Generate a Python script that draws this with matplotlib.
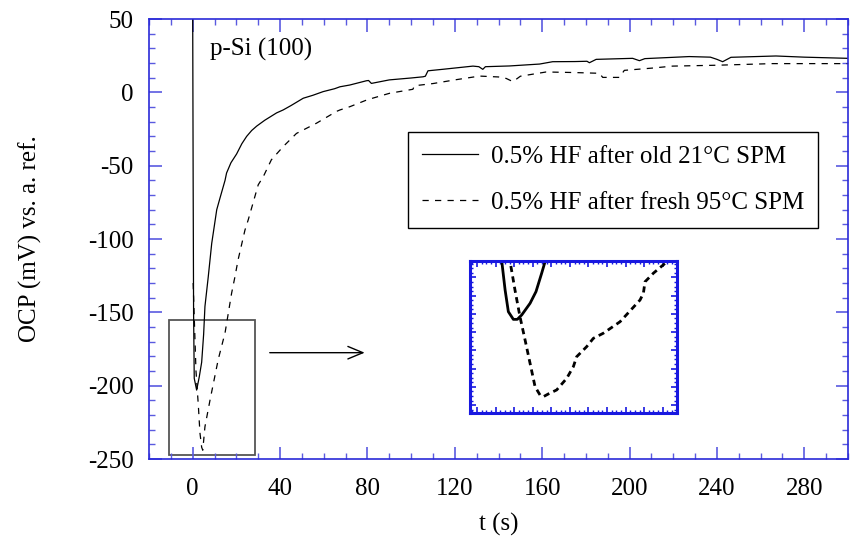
import matplotlib
matplotlib.use('Agg')
import matplotlib.pyplot as plt
from matplotlib.patches import Rectangle
from matplotlib.ticker import MultipleLocator

plt.rcParams['font.family'] = ['Liberation Serif', 'DejaVu Serif']
plt.rcParams['font.size'] = 18
plt.rcParams['axes.unicode_minus'] = False

# 0.5% HF after old 21°C SPM (solid)
t_old = [0, 0.2, 0.4, 0.7, 1.8, 3.0, 4.1, 5.0, 5.6, 7.1, 8.7, 11.0, 12.5, 14.8, 15.5,
         17.5, 20.1, 22.5, 24.7, 27, 29.3, 33, 38.4, 41.4, 45, 50.6, 55, 59.7, 65, 67.4,
         71.9, 79.5, 80.5, 81.8, 90, 100, 105.4, 106.5, 107.7, 115, 128.3, 131, 132.8,
         134, 145, 158.8, 164.8, 175, 180.5, 181.6, 184.7, 201.4, 204.5, 207, 227.3,
         237, 240, 242.6, 246.4, 267, 280, 300]
v_old = [50, -60, -150, -195, -203, -194, -184, -165, -146, -126, -103, -80, -72, -60, -55,
         -48, -42, -35, -30, -26, -23, -19, -14, -12, -9, -4, -2, 0.5, 2.5, 3.8,
         5, 7.9, 8.1, 6.1, 8.5, 9.8, 10.6, 11, 14.7, 15.8, 17.9, 17.5, 15.7,
         17.5, 18, 19.3, 20.9, 21, 21.2, 20.2, 22.5, 23.2, 21.6, 23, 24.4,
         24, 22.5, 20.9, 23.9, 24.8, 24, 23.2]

# 0.5% HF after fresh 95°C SPM (dashed)
t_fresh = [0.2, 1.5, 2.6, 3.3, 4.1, 4.6, 5.6, 7.9, 11.7, 14.8, 17.8, 19.3, 20.8, 23.9,
           25.4, 27.7, 30, 32.3, 36, 41.4, 47.5, 56.7, 65.8, 67.4, 71.9, 80, 90.2, 100.8,
           101.5, 110, 120, 131.3, 140, 143.5, 146.6, 150, 161.8, 175, 186.2, 187.7,
           195.3, 197.6, 210, 219.7, 240, 265.4, 300]
v_fresh = [-130, -190, -214, -232, -242, -244, -228, -210, -182, -164, -137, -126, -114, -94,
           -87, -75, -63, -57.5, -46, -37, -28, -21, -13, -12, -9.8, -5, -0.6, 2.1,
           4.5, 6, 8.5, 11.1, 10.5, 9.5, 7.3, 11, 13.9, 13.5, 13, 10.2,
           10.2, 15, 16.5, 17.9, 18.5, 19.6, 19.6]

# inset (zoom on the minima)
t_old_in = [0.45, 0.53, 0.82, 1.1, 1.53, 1.87, 2.25, 2.97, 3.48, 3.97, 4.26, 4.4]
v_old_in = [-166, -171, -186.9, -198.8, -203, -203, -200.6, -194.2, -187.8, -177.7, -171.4, -166]
t_fresh_in = [1.2, 1.24, 1.67, 2.1, 2.54, 2.97, 3.4, 3.83, 4.11, 4.54, 5.26, 6.13, 6.7, 6.98,
              7.84, 8.42, 9.28, 10.72, 12.44, 12.73, 12.87, 13.59, 14.6, 14.87, 15.2]
v_fresh_in = [-168, -171, -186.9, -201.5, -214.3, -227.1, -239.9, -244.5, -245.4, -243.9,
              -241.7, -235.3, -228.9, -223.5, -218, -213.4, -210.6, -204.3, -192.4, -188.7,
              -182.4, -177.7, -172.3, -171, -168]

labels = ['0.5% HF after old 21°C SPM', '0.5% HF after fresh 95°C SPM']

spine_blue = '#2a2ad8'
tick_blue = '#5a5ae0'

fig = plt.figure(figsize=(8.54, 5.39), dpi=100)
ax = fig.add_axes([0.1745, 0.1484, 0.8185, 0.8163])

ax.plot(t_old, v_old, color='black', lw=0.9, label=labels[0])
ax.plot(t_fresh, v_fresh, color='black', lw=0.9, linestyle=(0, (5, 5)), label=labels[1])

ax.set_xlim(-20, 300)
ax.set_ylim(-250, 50)
ax.xaxis.set_major_locator(MultipleLocator(40))
ax.xaxis.set_minor_locator(MultipleLocator(10))
ax.yaxis.set_major_locator(MultipleLocator(50))
ax.yaxis.set_minor_locator(MultipleLocator(10))
ax.tick_params(which='both', direction='in', top=True, right=True, color=tick_blue,
               labelsize=18)
ax.tick_params(axis='y', pad=11)
ax.tick_params(axis='x', pad=14)
ax.tick_params(which='major', length=9, width=1.2)
ax.tick_params(which='minor', length=4.5, width=1.0)
for s in ax.spines.values():
    s.set_color(spine_blue)
    s.set_linewidth(1.2)

ax.set_xlabel('t (s)', fontsize=18, labelpad=9)
ax.set_ylabel('OCP (mV) vs. a. ref.', fontsize=18, labelpad=33)

ax.text(7.9, 29, 'p-Si (100)', fontsize=18, ha='left', va='center')

leg = ax.legend(loc='upper right', bbox_to_anchor=(0.957, 0.744), fontsize=18,
                frameon=True, fancybox=False, edgecolor='black', handlelength=2.25,
                labelspacing=0.95, borderpad=0.55, handletextpad=0.5, borderaxespad=0)
leg.get_frame().set_linewidth(1.0)
leg.get_frame().set_alpha(1)

# zoom box and arrow
ax.add_patch(Rectangle((-11, -247), 39.6, 92, fill=False, edgecolor='#555555', lw=1.3))
ax.annotate('', xy=(80, -177.5), xytext=(34, -177.5),
            arrowprops=dict(arrowstyle='->,head_length=0.6,head_width=0.25',
                            color='black', lw=1.0))

# inset
axi = fig.add_axes([0.5504, 0.2332, 0.242, 0.2826])
axi.plot(t_old_in, v_old_in, color='black', lw=2.0)
axi.plot(t_fresh_in, v_fresh_in, color='black', lw=2.0, linestyle=(0, (2.2, 1.6)))
axi.set_xlim(-2.2, 15.6)
axi.set_ylim(-254.5, -171)
axi.xaxis.set_major_locator(MultipleLocator(1.6))
axi.xaxis.set_minor_locator(MultipleLocator(0.4))
axi.yaxis.set_major_locator(MultipleLocator(10))
axi.yaxis.set_minor_locator(MultipleLocator(2.5))
axi.tick_params(which='both', direction='in', top=True, right=True, color='#1818e0',
                labelbottom=False, labelleft=False)
axi.tick_params(which='major', length=4, width=1.2)
axi.tick_params(which='minor', length=2, width=1.0)
for s in axi.spines.values():
    s.set_color('#1818e0')
    s.set_linewidth(2.2)

fig.savefig('out.png', dpi=100)
